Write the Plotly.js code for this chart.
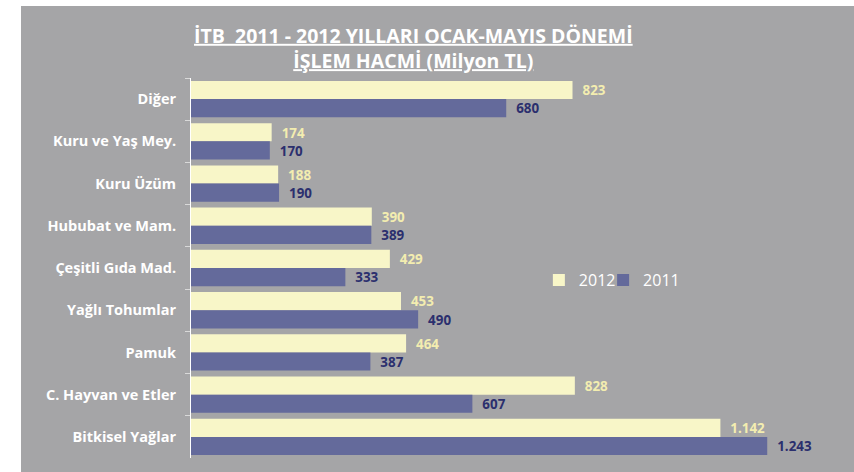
<!DOCTYPE html>
<html><head><meta charset="utf-8">
<script src="https://cdn.plot.ly/plotly-3.0.1.min.js"></script>
<style>html,body{margin:0;padding:0;background:#fff;}#c{position:absolute;left:21px;top:6px;width:833px;height:466px;}</style>
</head><body><div id="c"></div>
<script>
var categories = ["Diğer","Kuru ve Yaş Mey.","Kuru Üzüm","Hububat ve Mam.","Çeşitli Gıda Mad.","Yağlı Tohumlar","Pamuk","C. Hayvan ve Etler","Bitkisel Yağlar"];
var values2012 = [823,174,188,390,429,453,464,828,1142];
var values2011 = [680,170,190,389,333,490,387,607,1243];
var seriesNames = ["2012","2011"];
var FONT = "'Open Sans', 'Noto Sans', sans-serif";
var traces = [
 {type:'bar', orientation:'h', name:seriesNames[0], y:categories, x:values2012, legend:'legend',
  marker:{color:'#F8F6C8'}, textposition:'outside', texttemplate:'\u00a0\u00a0%{x:,}',
  textfont:{family:FONT, size:14, color:'#F3EDB0', weight:'bold'}, cliponaxis:false, hoverinfo:'none'},
 {type:'bar', orientation:'h', name:seriesNames[1], y:categories, x:values2011, legend:'legend2',
  marker:{color:'#646A9B'}, textposition:'outside', texttemplate:'\u00a0\u00a0%{x:,}',
  textfont:{family:FONT, size:14, color:'#2B2F6E', weight:'bold'}, cliponaxis:false, hoverinfo:'none'}
];
var legendBase = {orientation:'h', y:0.468, xanchor:'left', yanchor:'middle', bgcolor:'rgba(0,0,0,0)',
  font:{family:FONT, size:16, color:'#FFFFFF'}, itemwidth:30};
var layout = {
 width:833, height:466, paper_bgcolor:'#A5A5A7', plot_bgcolor:'#A5A5A7',
 margin:{l:170, r:14, t:72, b:14},
 separators:',.',
 barmode:'group', bargap:0.14, bargroupgap:0,
 title:{text:'<b><u>İTB\u00a0 2011 - 2012 YILLARI OCAK-MAYIS DÖNEMİ</u></b><br><b><u>İŞLEM HACMİ (Milyon TL)</u></b>',
  x:0.471, xanchor:'center', y:0.921, yanchor:'top', font:{family:FONT, size:19.5, color:'#FFFFFF'}},
 xaxis:{range:[0,1400], visible:false, fixedrange:true},
 yaxis:{autorange:'reversed', type:'category', showline:true, linecolor:'#FFFFFF', linewidth:1,
  ticks:'outside', tickson:'boundaries', ticklen:5, tickcolor:'#D9D9D9', ticklabelstandoff:11,
  tickfont:{family:FONT, size:14.5, color:'#FFFFFF', weight:'bold'}, showgrid:false, zeroline:false},
 legend:Object.assign({}, legendBase, {x:0.536}),
 legend2:Object.assign({}, legendBase, {x:0.635}),
 showlegend:true
};
Plotly.newPlot('c', traces, layout, {staticPlot:true, displayModeBar:false});
</script></body></html>
